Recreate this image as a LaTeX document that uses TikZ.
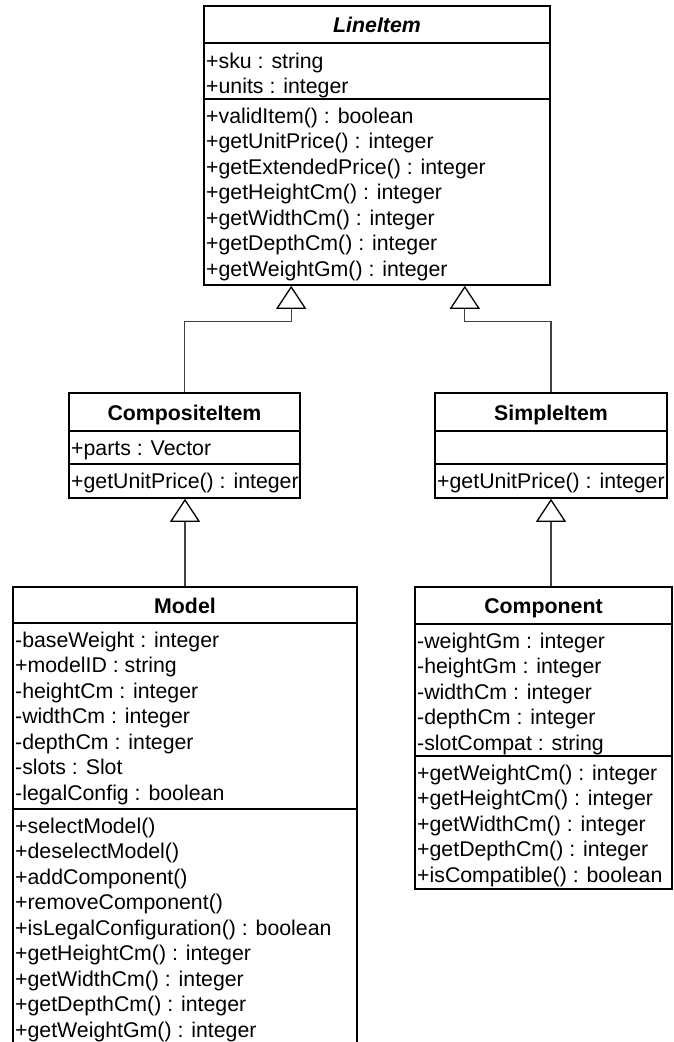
\documentclass[tikz,border=0pt]{standalone}
\usepackage{fontspec}
\setmainfont{Liberation Sans}
\usetikzlibrary{arrows.meta,calc}
\definecolor{connc}{HTML}{404040}
\begin{document}
\begin{tikzpicture}[x=1pt,y=-1pt,
  box/.style={draw=black, line width=1.6pt, inner sep=0pt, rectangle},
  sepline/.style={draw=black, line width=1.6pt},
  row/.style={anchor=base west, inner sep=0pt, font=\fontsize{21.3}{25.5}\selectfont},
  ttl/.style={anchor=base, inner sep=0pt, font=\fontsize{21.3}{25.5}\selectfont\bfseries},
  conn/.style={draw=connc, line width=1.2pt},
  gen/.style={-{Triangle[color=black, open, width=30pt, length=23pt, line width=1.3pt]}}
]
\path[fill=white,use as bounding box] (0,0) rectangle (673,1042);

% ---------- LineItem ----------
\node[box, minimum width=346pt, minimum height=279pt] (LineItem) at (377,145.5) {};
\draw[sepline] (LineItem.west |- 0,43) -- (LineItem.east |- 0,43);
\draw[sepline] (LineItem.west |- 0,99) -- (LineItem.east |- 0,99);
\node[ttl, font=\fontsize{21.3}{25.5}\selectfont\bfseries\itshape] (LineItemT) at (377,32) {LineItem};
\foreach \t [count=\i from 0] in {+sku : string, +units : integer}
  \node[row] (lia\i) at (206,{68+\i*25.5}) {\t};
\foreach \t [count=\i from 0] in {+validItem() : boolean, +getUnitPrice() : integer,
  +getExtendedPrice() : integer, +getHeightCm() : integer, +getWidthCm() : integer,
  +getDepthCm() : integer, +getWeightGm() : integer}
  \node[row] (lim\i) at (206,{123+\i*25.5}) {\t};

% ---------- CompositeItem ----------
\node[box, minimum width=231pt, minimum height=105pt] (CompositeItem) at (184.5,445.5) {};
\draw[sepline] (CompositeItem.west |- 0,431) -- (CompositeItem.east |- 0,431);
\draw[sepline] (CompositeItem.west |- 0,464) -- (CompositeItem.east |- 0,464);
\node[ttl] (CompositeItemT) at (184.5,420) {CompositeItem};
\node[row] (cia0) at (71,455) {+parts : Vector};
\node[row] (cim0) at (71,488) {+getUnitPrice() : integer};

% ---------- SimpleItem ----------
\node[box, minimum width=232pt, minimum height=105pt] (SimpleItem) at (551,445.5) {};
\draw[sepline] (SimpleItem.west |- 0,431) -- (SimpleItem.east |- 0,431);
\draw[sepline] (SimpleItem.west |- 0,464) -- (SimpleItem.east |- 0,464);
\node[ttl] (SimpleItemT) at (551,420) {SimpleItem};
\node[row] (sim0) at (437,488) {+getUnitPrice() : integer};

% ---------- Model ----------
\node[box, minimum width=344pt, minimum height=460pt] (Model) at (185,817) {};
\draw[sepline] (Model.west |- 0,623) -- (Model.east |- 0,623);
\draw[sepline] (Model.west |- 0,809) -- (Model.east |- 0,809);
\node[ttl] (ModelT) at (185,613) {Model};
\foreach \t [count=\i from 0] in {-baseWeight : integer, +modelID : string,
  -heightCm : integer, -widthCm : integer, -depthCm : integer, -slots : Slot,
  -legalConfig : boolean}
  \node[row] (ma\i) at (15,{647+\i*25.5}) {\t};
\foreach \t [count=\i from 0] in {+selectModel(), +deselectModel(), +addComponent(),
  +removeComponent(), +isLegalConfiguration() : boolean, +getHeightCm() : integer,
  +getWidthCm() : integer, +getDepthCm() : integer, +getWeightGm() : integer}
  \node[row] (mm\i) at (15,{833+\i*25.5}) {\t};

% ---------- Component ----------
\node[box, minimum width=257pt, minimum height=302pt] (Component) at (543.5,738) {};
\draw[sepline] (Component.west |- 0,624) -- (Component.east |- 0,624);
\draw[sepline] (Component.west |- 0,756) -- (Component.east |- 0,756);
\node[ttl] (ComponentT) at (543.5,613) {Component};
\foreach \t [count=\i from 0] in {-weightGm : integer, -heightGm : integer,
  -widthCm : integer, -depthCm : integer, -slotCompat : string}
  \node[row] (ca\i) at (417,{648+\i*25.5}) {\t};
\foreach \t [count=\i from 0] in {+getWeightCm() : integer, +getHeightCm() : integer,
  +getWidthCm() : integer, +getDepthCm() : integer, +isCompatible() : boolean}
  \node[row] (cm\i) at (417,{780+\i*25.5}) {\t};

% ---------- generalisations ----------
\coordinate (g1) at ($(LineItem.south west)+(88,0)$);
\coordinate (g2) at ($(LineItem.south east)+(-86,0)$);
\draw[conn,gen] (CompositeItem.north) -- ++(0,-71) -| (g1);
\draw[conn,gen] (SimpleItem.north) -- ++(0,-71) -| (g2);
\draw[conn,gen] (Model.north) -- (Model.north |- CompositeItem.south);
\coordinate (g4) at (SimpleItem.south);
\draw[conn,gen] (Component.north -| g4) -- (g4);
\end{tikzpicture}
\end{document}
